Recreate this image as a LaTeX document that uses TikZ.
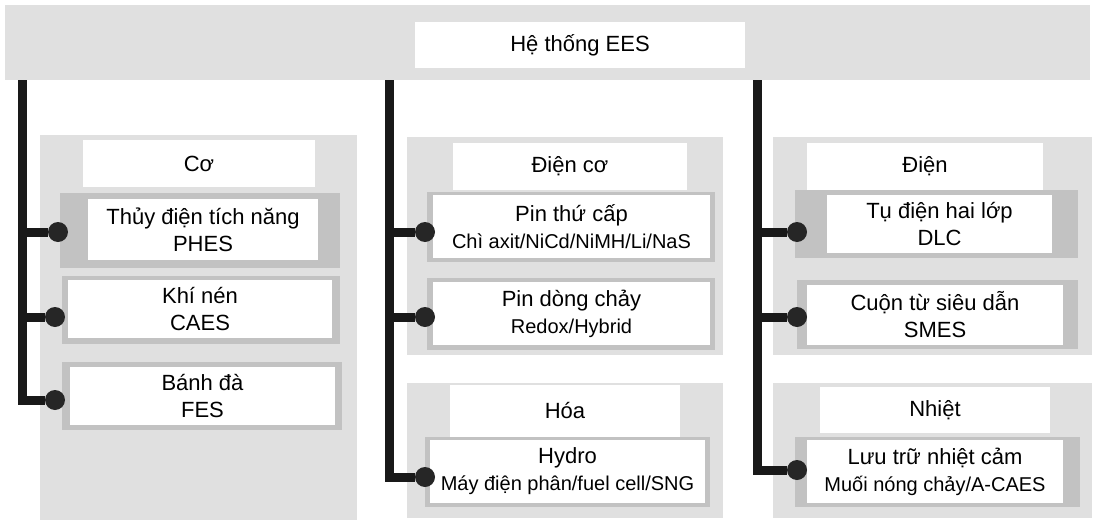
\documentclass[tikz,border=0pt]{standalone}
\usepackage{fontspec}
\setmainfont{Liberation Sans}
\begin{document}
\begin{tikzpicture}[x=1pt,y=-1pt,
  panel/.style={fill=gray!24, draw=none},
  shadowbox/.style={fill=gray!48, draw=none},
  wbox/.style={fill=white, inner sep=0pt, align=center, font=\fontsize{22}{27}\selectfont},
  trunk/.style={line width=9pt, draw=black!90},
  joint/.style={circle, fill=black!85, minimum size=20pt, inner sep=0pt}]
\newcommand\subtext[1]{{\fontsize{20}{25}\selectfont #1}}
\useasboundingbox (0,0) rectangle (1096,525);
% background panels
\fill[panel] (5,5) rectangle (1090,80);
\fill[panel] (40,135) rectangle (357,520);
\fill[panel] (407,137) rectangle (723,355);
\fill[panel] (407,383) rectangle (723,518);
\fill[panel] (773,137) rectangle (1092,355);
\fill[panel] (773,383) rectangle (1092,518);
% shadows
\fill[shadowbox] (60,193) rectangle (340,268);
\fill[shadowbox] (62,276) rectangle (340,344);
\fill[shadowbox] (62,362) rectangle (342,430);
\fill[shadowbox] (427,192) rectangle (715,262);
\fill[shadowbox] (427,278) rectangle (715,350);
\fill[shadowbox] (425,437) rectangle (710,507);
\fill[shadowbox] (795,190) rectangle (1078,258);
\fill[shadowbox] (797,280) rectangle (1078,349);
\fill[shadowbox] (795,437) rectangle (1080,507);
% boxes
\node[wbox, minimum width=330, minimum height=46] (ees) at (580,45) {Hệ thống EES};
\node[wbox, minimum width=232, minimum height=47] (co) at (199,163.5) {Cơ};
\node[wbox, minimum width=230, minimum height=61] (phes) at (203,229.5) {Thủy điện tích năng\\PHES};
\node[wbox, minimum width=264, minimum height=58] (caes) at (200,309) {Khí nén\\CAES};
\node[wbox, minimum width=265, minimum height=58] (fes) at (202.5,396) {Bánh đà\\FES};
\node[wbox, minimum width=234, minimum height=47] (dienco) at (570,166.5) {Điện cơ};
\node[wbox, minimum width=277, minimum height=63] (pin) at (571.5,226.5) {Pin thứ cấp\\\subtext{Chì axit/NiCd/NiMH/Li/NaS}};
\node[wbox, minimum width=277, minimum height=63] (flow) at (571.5,313.5) {Pin dòng chảy\\\subtext{Redox/Hybrid}};
\node[wbox, minimum width=230, minimum height=52] (hoa) at (565,411) {Hóa};
\node[wbox, minimum width=275, minimum height=63] (hydro) at (567.5,471.5) {Hydro\\\subtext{Máy điện phân/fuel cell/SNG}};
\node[wbox, minimum width=236, minimum height=47] (dien) at (925,166.5) {Điện};
\node[wbox, minimum width=225, minimum height=58] (dlc) at (939.5,224) {Tụ điện hai lớp\\DLC};
\node[wbox, minimum width=256, minimum height=60] (smes) at (935,315) {Cuộn từ siêu dẫn\\SMES};
\node[wbox, minimum width=230, minimum height=46] (nhiet) at (935,410) {Nhiệt};
\node[wbox, minimum width=256, minimum height=63] (luutru) at (935,471.5) {Lưu trữ nhiệt cảm\\\subtext{Muối nóng chảy/A-CAES}};
% joints
\node[joint] (jphes) at (58,232) {};
\node[joint] (jcaes) at (55,317) {};
\node[joint] (jfes) at (55,400) {};
\node[joint] (jpin) at (425,232) {};
\node[joint] (jflow) at (425,317) {};
\node[joint] (jhydro) at (425,477) {};
\node[joint] (jdlc) at (797,232) {};
\node[joint] (jsmes) at (797,317) {};
\node[joint] (jluu) at (797,470) {};
% trunks
\coordinate (tL) at (22,80);
\coordinate (tM) at (389,80);
\coordinate (tR) at (757,80);
\draw[trunk] (tL) |- (jfes);
\draw[trunk] (tL |- jphes) -- (jphes);
\draw[trunk] (tL |- jcaes) -- (jcaes);
\draw[trunk] (tM) |- (jhydro);
\draw[trunk] (tM |- jpin) -- (jpin);
\draw[trunk] (tM |- jflow) -- (jflow);
\draw[trunk] (tR) |- (jluu);
\draw[trunk] (tR |- jdlc) -- (jdlc);
\draw[trunk] (tR |- jsmes) -- (jsmes);
\end{tikzpicture}
\end{document}
